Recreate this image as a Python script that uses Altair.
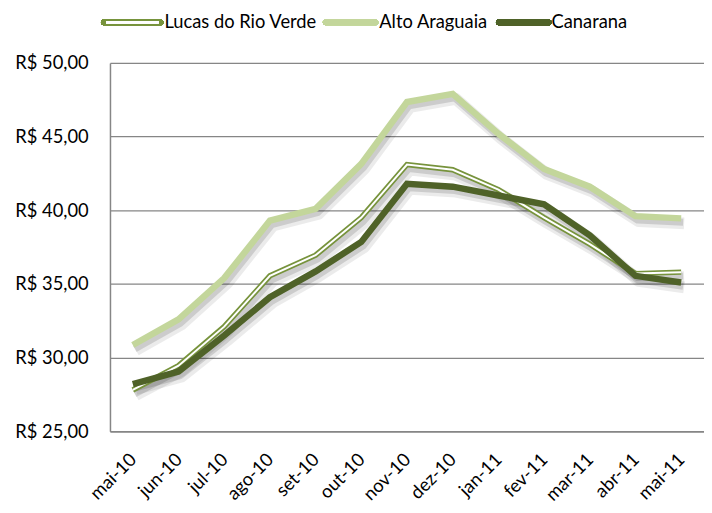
import altair as alt
import pandas as pd

months = ["mai-10", "jun-10", "jul-10", "ago-10", "set-10", "out-10", "nov-10",
          "dez-10", "jan-11", "fev-11", "mar-11", "abr-11", "mai-11"]
lucas = [27.8, 29.45, 32.1, 35.55, 36.95, 39.5, 43.1, 42.75, 41.4, 39.5, 37.7, 35.7, 35.8]
alto = [30.85, 32.6, 35.4, 39.3, 40.1, 43.15, 47.35, 47.9, 45.2, 42.8, 41.6, 39.6, 39.45]
canarana = [28.2, 29.05, 31.5, 34.1, 35.85, 37.85, 41.8, 41.6, 41.0, 40.4, 38.3, 35.55, 35.1]

series_names = ["Lucas do Rio Verde", "Alto Araguaia", "Canarana"]
y_ticks = [25, 30, 35, 40, 45, 50]

C_LUCAS = "#77933c"
C_ALTO = "#c3d69b"
C_CAN = "#4f6228"
FONT = "Lato"
FS = 18.5

rows = []
for name, vals in zip(series_names, [lucas, alto, canarana]):
    for m, v in zip(months, vals):
        rows.append({"month": m, "value": v, "series": name})
df = pd.DataFrame(rows)

W, H = 600, 372

x = alt.X("month:N", sort=months, title=None,
          axis=alt.Axis(labelAngle=-45, labelAlign="right", labelBaseline="middle",
                        labelPadding=25, ticks=False, domainColor="#868686",
                        domainWidth=1.5, labelFont=FONT, labelFontSize=FS,
                        labelColor="#000", grid=False))
y = alt.Y("value:Q", title=None,
          scale=alt.Scale(domain=[25, 50], nice=False, zero=False),
          axis=alt.Axis(values=y_ticks,
                        labelExpr="'R$ ' + replace(format(datum.value, '.2f'), '.', ',')",
                        labelPadding=22, ticks=False, domainColor="#868686",
                        domainWidth=1.5, gridColor="#868686", gridWidth=1.3,
                        labelFont=FONT, labelFontSize=FS, labelColor="#000"))

base = alt.Chart(df).encode(x=x, y=y)

def series(name):
    return base.transform_filter(alt.datum.series == name)

shadows = []
for name in series_names:
    shadows.append(series(name).mark_line(color="#000", opacity=0.08, strokeWidth=12,
                                           xOffset=3, yOffset=5, strokeJoin="round"))
    shadows.append(series(name).mark_line(color="#000", opacity=0.13, strokeWidth=7,
                                           xOffset=2, yOffset=4, strokeJoin="round"))

lucas_outer = series("Lucas do Rio Verde").mark_line(color=C_LUCAS, strokeWidth=5.5, strokeJoin="miter")
lucas_inner = series("Lucas do Rio Verde").mark_line(color="#ffffff", strokeWidth=2, strokeJoin="miter")
alto_line = series("Alto Araguaia").mark_line(color=C_ALTO, strokeWidth=6.5, strokeJoin="miter")
can_line = series("Canarana").mark_line(color=C_CAN, strokeWidth=6.5, strokeJoin="miter")

# manual legend (pixel positions relative to plot area)
ly = 20 - 61
leg = []
leg.append(alt.Chart(df).mark_rule(color=C_LUCAS, strokeWidth=6, strokeCap="round").encode(
    x=alt.value(105 - 111), x2=alt.value(162 - 111), y=alt.value(ly)))
leg.append(alt.Chart(df).mark_rule(color="#ffffff", strokeWidth=2).encode(
    x=alt.value(107 - 111), x2=alt.value(160 - 111), y=alt.value(ly)))
leg.append(alt.Chart(df).mark_rule(color=C_ALTO, strokeWidth=6, strokeCap="round").encode(
    x=alt.value(329 - 111), x2=alt.value(379 - 111), y=alt.value(ly)))
leg.append(alt.Chart(df).mark_rule(color=C_CAN, strokeWidth=6, strokeCap="round").encode(
    x=alt.value(504 - 111), x2=alt.value(554 - 111), y=alt.value(ly)))
for name, lx in zip(series_names, [166, 383, 557]):
    leg.append(alt.Chart(pd.DataFrame({"t": [name]})).mark_text(
        align="left", baseline="middle", font=FONT, fontSize=FS, color="#000").encode(
        text="t:N", x=alt.value(lx - 111), y=alt.value(ly)))

chart = alt.layer(*shadows, lucas_outer, lucas_inner, alto_line, can_line, *leg).properties(
    width=W, height=H,
    autosize=alt.AutoSizeParams(type="none"),
    padding={"left": 103, "top": 53, "right": 0, "bottom": 72},
).configure_view(stroke=None).configure(background="#ffffff")

chart.save("out.html", embed_options={"renderer": "svg", "actions": False})
